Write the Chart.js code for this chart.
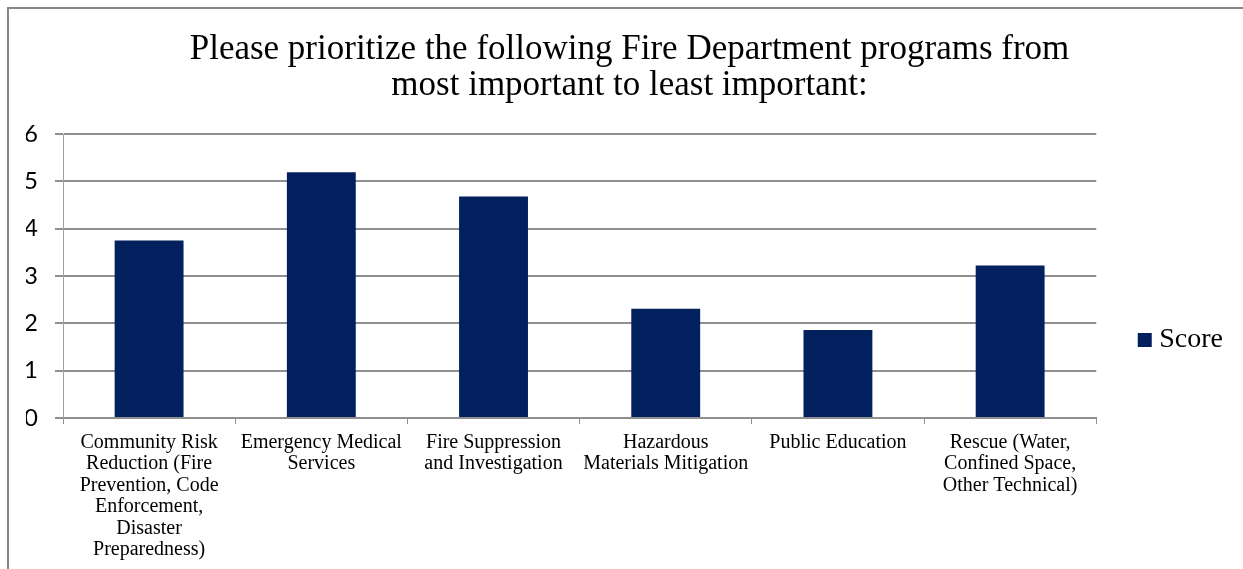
<!DOCTYPE html>
<html>
<head>
<meta charset="utf-8">
<title>Fire Department programs</title>
<script src="https://cdn.jsdelivr.net/npm/chart.js@4.4.1/dist/chart.umd.min.js"></script>
<style>
  html, body { margin: 0; padding: 0; background: #fff; overflow: hidden; }
  #wrap { position: relative; width: 1243px; height: 569px; }
  #frame {
    position: absolute; left: 7px; top: 7px; width: 1300px; height: 600px;
    border-left: 2px solid #878787; border-top: 2px solid #878787;
    pointer-events: none;
  }
</style>
</head>
<body>
<div id="wrap">
  <canvas id="chart" width="1243" height="569"></canvas>
  <div id="frame"></div>
</div>
<script>
// --- datos del gráfico ---
const titleLines = [
  'Please prioritize the following Fire Department programs from',
  'most important to least important:'
];
const programs = [
  ['Community Risk', 'Reduction (Fire', 'Prevention, Code', 'Enforcement,', 'Disaster', 'Preparedness)'],
  ['Emergency Medical', 'Services'],
  ['Fire Suppression', 'and Investigation'],
  ['Hazardous', 'Materials Mitigation'],
  ['Public Education'],
  ['Rescue (Water,', 'Confined Space,', 'Other Technical)']
];
const scores = [3.75, 5.19, 4.68, 2.31, 1.86, 3.22];
const seriesName = 'Score';
const yMin = 0, yMax = 6, yStep = 1;

const serif = "'Liberation Serif', 'Times New Roman', serif";
const gridGrey = '#8f8f8f';

new Chart(document.getElementById('chart').getContext('2d'), {
  type: 'bar',
  data: {
    labels: programs,
    datasets: [{
      label: seriesName,
      data: scores,
      backgroundColor: '#021f5e',
      borderWidth: 0,
      categoryPercentage: 1,
      barPercentage: 0.4
    }]
  },
  options: {
    responsive: false,
    animation: false,
    devicePixelRatio: 1,
    layout: { padding: { left: 26, right: 10, top: 0, bottom: 0 } },
    plugins: {
      tooltip: { enabled: false },
      title: {
        display: true,
        text: titleLines,
        color: '#000',
        font: { family: serif, size: 35, weight: 'normal', lineHeight: '36px' },
        padding: { top: 32, bottom: 30 }
      },
      legend: {
        position: 'right',
        title: { display: true, text: ' ', font: { size: 10, lineHeight: 1 }, padding: { top: 101, bottom: 0 } },
        labels: {
          usePointStyle: true,
          pointStyle: 'rect',
          boxWidth: 1,
          boxHeight: 14,
          padding: 48,
          color: '#000',
          font: { family: serif, size: 28, lineHeight: 1 }
        }
      }
    },
    scales: {
      x: {
        afterFit: (scale) => { scale.height = 151; },
        grid: { drawOnChartArea: false, tickLength: 6, color: gridGrey, lineWidth: 1 },
        border: { color: gridGrey, width: 2 },
        ticks: {
          autoSkip: false, maxRotation: 0, minRotation: 0, padding: 8, color: '#000',
          font: { family: serif, size: 20, lineHeight: '21.4px' }
        }
      },
      y: {
        min: yMin, max: yMax,
        afterFit: (scale) => { scale.width = 37; },
        grid: { color: gridGrey, lineWidth: 2, tickLength: 8 },
        border: { color: '#a0a0a0', width: 1 },
        ticks: {
          stepSize: yStep, padding: 17, color: '#000',
          font: { family: "Lato, 'Open Sans', sans-serif", size: 24 }
        }
      }
    }
  }
});
</script>
</body>
</html>
